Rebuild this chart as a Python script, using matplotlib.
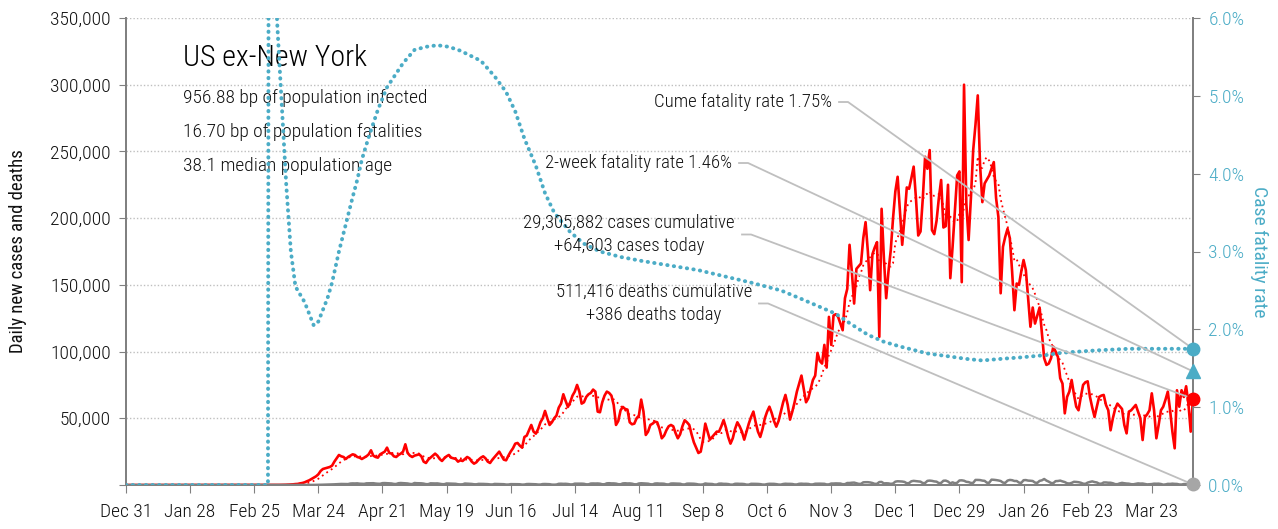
import numpy as np
import pandas as pd
import matplotlib
matplotlib.use("Agg")
import matplotlib.pyplot as plt
from matplotlib.lines import Line2D
from matplotlib.transforms import IdentityTransform
from matplotlib.ticker import FuncFormatter, MultipleLocator
from matplotlib import font_manager

# condensed face if one is installed, else the plain one
names = {f.name for f in font_manager.fontManager.ttflist}
narrow = [n for n in ("Liberation Sans Narrow", "Roboto Condensed", "DejaVu Sans Condensed") if n in names]
plt.rcParams['font.family'] = narrow + ['DejaVu Sans']
plt.rcParams['font.stretch'] = 'condensed'
plt.rcParams['font.weight'] = 'light'

# ------------------------------------------------------------------
# Data, one value per day from Dec 31 2019
# ------------------------------------------------------------------
START = "2019-12-31"

daily_cases = [
    0, 0, 0, 0, 0, 0, 0,
    0, 0, 0, 0, 0, 0, 0,
    0, 0, 0, 0, 0, 0, 0,
    0, 0, 0, 0, 0, 0, 0,
    0, 0, 0, 0, 0, 0, 0,
    0, 0, 0, 0, 0, 0, 0,
    0, 0, 0, 0, 0, 0, 0,
    0, 0, 0, 0, 0, 0, 0,
    2, 5, 3, 8, 10, 15, 20,
    25, 30, 40, 60, 80, 100, 150,
    200, 300, 350, 500, 700, 800, 1200,
    1500, 2000, 2800, 3500, 4500, 5500, 6500,
    8000, 10500, 12000, 12500, 13000, 13500, 14500,
    17500, 20000, 22500, 21500, 21000, 19500, 21000,
    22000, 23000, 22500, 21000, 20500, 19500, 20500,
    21500, 23000, 26000, 22000, 21000, 20500, 23000,
    24000, 25000, 28000, 24000, 23500, 21500, 21000,
    22500, 23500, 25000, 30500, 24000, 22000, 21000,
    22000, 22500, 23000, 21500, 17500, 16500, 19000,
    20500, 22000, 23500, 22000, 19500, 18000, 20000,
    21500, 22500, 20500, 20000, 19500, 17500, 18500,
    18000, 19500, 21000, 20000, 17500, 16000, 17000,
    19000, 20500, 21500, 20000, 17500, 16500, 19000,
    21000, 23000, 25000, 22000, 19000, 18500, 22000,
    25000, 27500, 31000, 31500, 29500, 28000, 36000,
    37000, 41000, 45000, 40000, 38500, 42000, 47000,
    50000, 55500, 50000, 45000, 47000, 50000, 52000,
    58000, 61000, 68000, 63000, 58500, 62000, 67000,
    70000, 75000, 70000, 61000, 62000, 66000, 68000,
    69000, 71500, 70000, 55000, 54500, 62000, 67000,
    70000, 69000, 67000, 60000, 45000, 48000, 56000,
    58500, 57000, 56500, 47000, 45500, 46000, 50000,
    52000, 64000, 55000, 37500, 40000, 45000, 46000,
    47500, 47000, 42000, 35000, 37000, 41000, 44000,
    45000, 44000, 39000, 35000, 38000, 44000, 48500,
    47000, 45000, 38000, 32000, 28000, 24000, 25000,
    34000, 46000, 40000, 34000, 36000, 38000, 40000,
    40000, 44000, 48700, 43000, 36000, 31000, 35000,
    42000, 47000, 44000, 40000, 34000, 40000, 46000,
    51000, 55000, 47000, 40000, 36000, 42000, 50000,
    55000, 58700, 54000, 48000, 43700, 48000, 55000,
    62000, 67500, 60000, 49000, 55000, 62000, 70000,
    76000, 82000, 72000, 62000, 65000, 72000, 78700,
    82000, 99000, 93000, 91000, 105000, 88000, 126000,
    105000, 127000, 128000, 126000, 121000, 116000, 140000,
    147000, 180000, 160000, 136000, 162000, 164000, 166000,
    185000, 197000, 175000, 146000, 173000, 178000, 182000,
    111000, 207000, 170000, 140000, 160000, 176000, 200000,
    220000, 231000, 205000, 180000, 200000, 223000, 222000,
    230000, 238600, 215000, 187000, 190000, 215000, 246000,
    237000, 251000, 191000, 188000, 198000, 215000, 228600,
    193000, 194000, 225000, 155000, 178500, 205000, 232000,
    235000, 152000, 300000, 211000, 183600, 215000, 251000,
    270000, 292000, 240000, 212000, 226000, 229000, 232000,
    237000, 242000, 215000, 201000, 143700, 178500, 186000,
    192000, 185000, 160000, 131000, 151000, 150000, 160000,
    168600, 161000, 140000, 118600, 133000, 121000, 127000,
    133000, 113700, 95000, 90000, 91000, 95000, 103700,
    100000, 96000, 80000, 76000, 53700, 66000, 70000,
    78700, 68000, 58700, 56000, 66000, 75000, 77000,
    77700, 66000, 58000, 51000, 58700, 66000, 67000,
    67500, 60000, 56000, 41000, 50000, 57000, 61000,
    59000, 57000, 45000, 38700, 55000, 56000, 58000,
    60000, 55000, 50000, 33700, 51000, 53000, 56000,
    68700, 56000, 35000, 45000, 56000, 58700, 64000,
    70000, 56000, 40000, 27500, 71000, 58700, 71000,
    66000, 74000, 61000, 40000, 64603,
]

daily_deaths = [
    0, 0, 0, 0, 0, 0, 0,
    0, 0, 0, 0, 0, 0, 0,
    0, 0, 0, 0, 0, 0, 0,
    0, 0, 0, 0, 0, 0, 0,
    0, 0, 0, 0, 0, 0, 0,
    0, 0, 0, 0, 0, 0, 0,
    0, 0, 0, 0, 0, 0, 0,
    0, 0, 0, 0, 0, 0, 0,
    0, 0, 0, 0, 1, 0, 1,
    4, 1, 2, 3, 3, 2, 4,
    5, 7, 10, 8, 10, 12, 15,
    20, 30, 40, 50, 60, 70, 90,
    130, 180, 230, 280, 320, 300, 380,
    500, 620, 700, 780, 740, 620, 700,
    1100, 1200, 1150, 1250, 1000, 900, 850,
    1250, 1300, 1400, 1350, 1100, 950, 900,
    1400, 1450, 1350, 1300, 1150, 800, 750,
    1350, 1500, 1400, 1300, 1150, 800, 700,
    1500, 1350, 1300, 1250, 1050, 650, 650,
    1250, 1200, 1150, 1200, 950, 650, 600,
    1150, 1100, 1050, 1000, 900, 550, 450,
    500, 1100, 1000, 950, 800, 550, 500,
    850, 850, 800, 750, 650, 450, 400,
    800, 750, 700, 650, 600, 350, 350,
    650, 650, 650, 600, 550, 300, 350,
    700, 750, 700, 650, 550, 350, 350,
    700, 750, 650, 600, 300, 250, 350,
    900, 950, 850, 900, 750, 450, 450,
    1000, 1000, 950, 1000, 900, 500, 500,
    1100, 1150, 1100, 1150, 1000, 550, 550,
    1250, 1350, 1200, 1200, 1050, 600, 550,
    1200, 1300, 1150, 1200, 1000, 550, 500,
    1150, 1300, 1200, 1150, 1000, 550, 450,
    1100, 1200, 1050, 1050, 950, 500, 400,
    1100, 1150, 1100, 1000, 950, 450, 400,
    1000, 1050, 1000, 950, 750, 400, 300,
    450, 1150, 900, 850, 750, 350, 350,
    1000, 1050, 850, 850, 700, 300, 300,
    900, 950, 850, 850, 700, 300, 300,
    900, 900, 850, 800, 650, 350, 300,
    700, 900, 850, 850, 650, 350, 300,
    750, 950, 850, 850, 750, 400, 400,
    900, 1000, 850, 900, 800, 400, 450,
    950, 1000, 1000, 950, 900, 400, 450,
    1100, 1100, 1200, 1150, 1100, 600, 650,
    1500, 1500, 1700, 1800, 1300, 850, 850,
    2000, 2100, 2100, 1900, 1500, 850, 900,
    2200, 2300, 1200, 1300, 1200, 850, 1100,
    2500, 2800, 2700, 2600, 2300, 1300, 1450,
    2800, 3100, 2900, 2700, 2500, 1400, 1500,
    3100, 3300, 3100, 2700, 2500, 1400, 1550,
    3200, 3300, 2600, 1200, 2000, 1300, 1700,
    3400, 3500, 3200, 2400, 2200, 1500, 1600,
    3800, 3800, 3700, 3300, 3100, 1700, 1700,
    4000, 3900, 3700, 3400, 3000, 1800, 1600,
    3300, 3800, 3600, 3000, 3000, 1800, 1600,
    3600, 3700, 3300, 3200, 3000, 1800, 1600,
    3100, 3500, 4500, 3300, 2500, 1500, 1400,
    2900, 3000, 3300, 2700, 2200, 1300, 1100,
    1600, 2400, 2300, 2100, 1700, 1000, 850,
    1800, 2300, 2700, 2200, 1900, 1000, 950,
    1900, 1900, 1700, 1700, 1300, 650, 600,
    1200, 1600, 1300, 1100, 1000, 600, 550,
    900, 1200, 1050, 1100, 800, 450, 550,
    700, 1000, 950, 1000, 750, 250, 450,
    850, 800, 1000, 850, 800, 400, 350,
    700, 750, 900, 700, 386,
]

# cumulative case fatality rate (%), day offsets from START
cfr_day = [0, 62, 63, 64, 65, 66, 68, 70, 72, 74, 76, 78, 80, 82, 84, 86, 88,
           90, 93, 96, 99, 101, 103, 106, 110, 114, 121, 126, 131, 136, 141,
           146, 155, 161, 166, 170, 174, 179, 183, 187, 194, 200, 207, 216,
           225, 250, 273, 286, 295, 310, 316, 324, 331, 338, 350, 360, 367,
           374, 382, 391, 402, 409, 424, 438, 466]
cfr_pct = [0.0, 0.0, 25.0, 12.0, 7.0, 5.95, 4.9, 3.85, 3.0, 2.55, 2.45, 2.35,
           2.2, 2.05, 2.1, 2.25, 2.4, 2.6, 3.0, 3.35, 3.7, 3.92, 4.18, 4.47,
           4.82, 5.11, 5.42, 5.59, 5.63, 5.65, 5.63, 5.58, 5.45, 5.25, 5.05,
           4.8, 4.45, 4.1, 3.75, 3.5, 3.25, 3.1, 3.0, 2.93, 2.88, 2.76, 2.6,
           2.5, 2.39, 2.2, 2.08, 1.93, 1.84, 1.78, 1.69, 1.65, 1.62, 1.60,
           1.62, 1.64, 1.67, 1.70, 1.73, 1.75, 1.75]

region = "US ex-New York"
info_lines = ["956.88 bp of population infected",
              "16.70 bp of population fatalities",
              "38.1 median population age"]
cume_rate = 1.75
two_week_rate = 1.46
cases_cumulative = 29305882
cases_today = 64603
deaths_cumulative = 511416
deaths_today = 386

# ------------------------------------------------------------------
RED = "#FF0000"
TEAL = "#4BACC6"
GREY = "#808080"
LEADER = "#BFBFBF"
TXT = "#111111"

dates = pd.date_range(START, periods=len(daily_cases), freq="D")
avg7 = pd.Series(daily_cases).rolling(7).mean()
cfr_dates = pd.Timestamp(START) + pd.to_timedelta(cfr_day, unit="D")

fig = plt.figure(figsize=(12.78, 5.29), dpi=100)
ax = fig.add_axes([126 / 1278, 44 / 529, 1067 / 1278, 467 / 529])
ax2 = ax.twinx()

# cases, 7-day average, deaths
ax.plot(dates, daily_cases, color=RED, lw=1.9, zorder=3)
ax.plot(dates, avg7, color=RED, lw=1.3, ls=(0, (1, 2)), zorder=4)
ax.plot(dates, daily_deaths, color=GREY, lw=1.8, zorder=5)

# fatality rate
ax2.plot(cfr_dates, cfr_pct, color=TEAL, lw=2.8, ls=(0, (0.1, 1.6)),
         dash_capstyle="round", zorder=3)

ax.set_xlim(dates[0], dates[-1])
ax.set_ylim(0, 350000)
ax2.set_ylim(0, 6.0)

ticks = pd.date_range(START, periods=17, freq="28D")
ax.set_xticks(ticks)
ax.set_xticklabels([f"{d:%b} {d.day}" for d in ticks])

ax.yaxis.set_major_locator(MultipleLocator(50000))
ax.yaxis.set_major_formatter(FuncFormatter(lambda v, p: "" if v == 0 else f"{v:,.0f}"))
ax2.yaxis.set_major_locator(MultipleLocator(1.0))
ax2.yaxis.set_major_formatter(FuncFormatter(lambda v, p: f"{v:.1f}%"))

ax.yaxis.grid(True, ls=(0, (1, 1.5)), color="#BFBFBF", lw=1)
ax.set_axisbelow(True)

for a in (ax, ax2):
    a.spines["top"].set_visible(False)
    for s in ("left", "right", "bottom"):
        a.spines[s].set_color(GREY)
        a.spines[s].set_linewidth(1.3)

ax.tick_params(axis="x", length=6, color=GREY, labelsize=14, labelcolor=TXT, pad=7)
ax.tick_params(axis="y", length=5, color=GREY, labelsize=14, labelcolor=TXT, pad=6)
ax2.tick_params(axis="y", length=5, color=GREY, labelsize=14, labelcolor=TEAL, pad=6)

ax.set_ylabel("Daily new cases and deaths", fontsize=13.5, color=TXT)
ax.yaxis.set_label_coords(-0.093, 0.5)
ax2.set_ylabel("Case fatality rate", fontsize=14, color=TEAL, rotation=270,
               va="bottom", labelpad=4)

# title block
ax.text(0.0534, 0.914, region, transform=ax.transAxes, fontsize=21.5,
        color="black", va="center", ha="left")
for i, line in enumerate(info_lines):
    ax.text(0.0534, 0.8287 - i * 0.0728, line, transform=ax.transAxes,
            fontsize=14, color=TXT, va="center", ha="left")

# end markers
last = dates[-1]
ax2.plot(last, cume_rate, "o", color=TEAL, ms=9, clip_on=False, zorder=6)
ax2.plot(last, two_week_rate, "^", color=TEAL, ms=10, clip_on=False, zorder=6)
ax2.plot(last, cases_today, "o", color=RED, ms=9, clip_on=False, zorder=6,
         transform=ax.transData)
ax2.plot(last, deaths_today, "o", color="#A6A6A6", ms=9, clip_on=False, zorder=6,
         transform=ax.transData)

# annotations with leader lines
xlast = matplotlib.dates.date2num(last)
notes = [
    (f"Cume fatality rate {cume_rate:.2f}%", 0.6617, 0.8201,
     ax2.transData.transform((xlast, cume_rate))),
    (f"2-week fatality rate {two_week_rate:.2f}%", 0.568, 0.6895,
     ax2.transData.transform((xlast, two_week_rate))),
    (f"{cases_cumulative:,} cases cumulative\n+{cases_today:,} cases today", 0.5708, 0.5364,
     ax.transData.transform((xlast, cases_today))),
    (f"{deaths_cumulative:,} deaths cumulative\n+{deaths_today:,} deaths today", 0.5867, 0.3887,
     ax.transData.transform((xlast, deaths_today))),
]
texts = []
for label, tx, ty, target in notes:
    t = ax2.text(tx, ty, label, transform=ax.transAxes, fontsize=13.5, color=TXT,
                 ha="right", va="center", multialignment="center", linespacing=1.35,
                 zorder=7)
    texts.append((t, target))

fig.canvas.draw()
renderer = fig.canvas.get_renderer()
for t, target in texts:
    bb = t.get_window_extent(renderer)
    y0 = (bb.y0 + bb.y1) / 2
    xs = [bb.x1 + 7, bb.x1 + 16, target[0]]
    ys = [y0, y0, target[1]]
    ax2.add_line(Line2D(xs, ys, transform=IdentityTransform(), color=LEADER,
                        lw=1.3, clip_on=False, zorder=5))

fig.savefig("out.png", dpi=100)
